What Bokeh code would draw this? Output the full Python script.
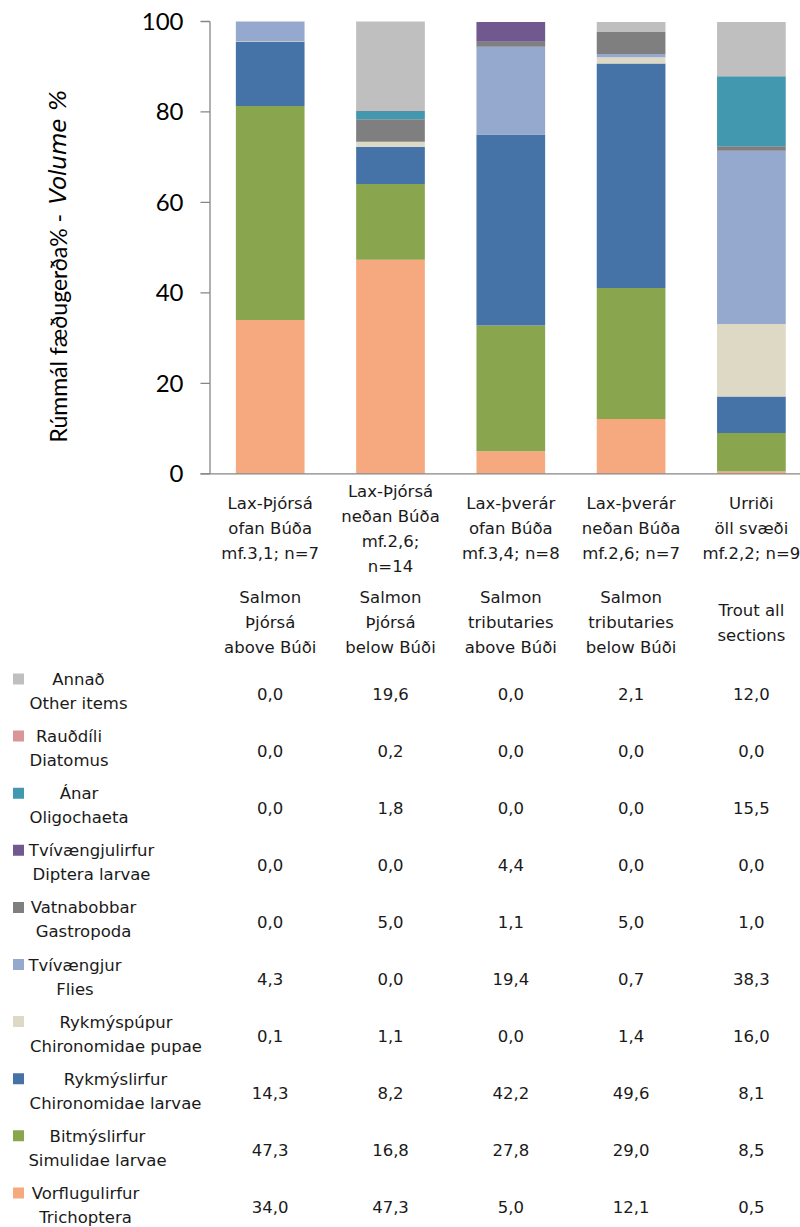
import math
from bokeh.plotting import figure
from bokeh.models import Range1d, ColumnDataSource
from bokeh.embed import file_html
from bokeh.resources import INLINE
from bokeh.core.properties import value

# ---------------- data ----------------
groups_is = ["Lax-Þjórsá\nofan Búða\nmf.3,1; n=7",
             "Lax-Þjórsá\nneðan Búða\nmf.2,6;\nn=14",
             "Lax-þverár\nofan Búða\nmf.3,4; n=8",
             "Lax-þverár\nneðan Búða\nmf.2,6; n=7",
             "Urriði\nöll svæði\nmf.2,2; n=9"]
groups_en = ["Salmon\nÞjórsá\nabove Búði",
             "Salmon\nÞjórsá\nbelow Búði",
             "Salmon\ntributaries\nabove Búði",
             "Salmon\ntributaries\nbelow Búði",
             "Trout all\nsections"]

# table rows, top to bottom (stack order is the reverse)
labels_is = ["Annað", "Rauðdíli", "Ánar", "Tvívængjulirfur", "Vatnabobbar",
             "Tvívængjur", "Rykmýspúpur", "Rykmýslirfur", "Bitmýslirfur", "Vorflugulirfur"]
labels_en = ["Other items", "Diatomus", "Oligochaeta", "Diptera larvae", "Gastropoda",
             "Flies", "Chironomidae pupae", "Chironomidae larvae", "Simulidae larvae", "Trichoptera"]

other_items = [0.0, 19.6, 0.0, 2.1, 12.0]
diatomus = [0.0, 0.2, 0.0, 0.0, 0.0]
oligochaeta = [0.0, 1.8, 0.0, 0.0, 15.5]
diptera_larvae = [0.0, 0.0, 4.4, 0.0, 0.0]
gastropoda = [0.0, 5.0, 1.1, 5.0, 1.0]
flies = [4.3, 0.0, 19.4, 0.7, 38.3]
chironomidae_pupae = [0.1, 1.1, 0.0, 1.4, 16.0]
chironomidae_larvae = [14.3, 8.2, 42.2, 49.6, 8.1]
simulidae_larvae = [47.3, 16.8, 27.8, 29.0, 8.5]
trichoptera = [34.0, 47.3, 5.0, 12.1, 0.5]

y_ticks = [0, 20, 40, 60, 80, 100]
y_title_a = "Rúmmál fæðugerða% -"
y_title_b = "Volume %"

series = [other_items, diatomus, oligochaeta, diptera_larvae, gastropoda,
          flies, chironomidae_pupae, chironomidae_larvae, simulidae_larvae, trichoptera]

# ---------------- style / layout ----------------
colors = ["#BFBFBF", "#D99694", "#4198AF", "#71588F", "#7F7F7F",
          "#95A9CF", "#DDD9C4", "#4572A7", "#89A54E", "#F6A97E"]
# visual centre (page px) of each row's two-line label
label_cx = [78, 68.5, 78.5, 91, 83, 74.5, 115.5, 115, 97, 85]

TXT = "#1a1a1a"
AX = "#868686"
W, H = 800, 1227
PXU = 120.3          # px per category
X0_PX = 269.7        # page x of first category
Y0_PX = 473.3        # page y of value 0
PYU = 4.523          # px per percent

x_start = -X0_PX / PXU
y_top = Y0_PX / PYU
xr = Range1d(x_start, x_start + W / PXU)
yr = Range1d(y_top - H / PYU, y_top)


def ux(px):
    return x_start + px / PXU


def vy(py):
    return y_top - py / PYU


p = figure(width=W, height=H, x_range=xr, y_range=yr,
           output_backend="svg", toolbar_location=None,
           x_axis_type=None, y_axis_type=None,
           min_border_left=0, min_border_right=0, min_border_top=0, min_border_bottom=0)
p.outline_line_color = None
p.background_fill_color = "white"

n = len(groups_is)
xs = list(range(n))
keys = [f"s{k}" for k in range(len(series))]

# ---------------- stacked bars ----------------
src = {"x": xs}
for k, s in zip(keys, series):
    src[k] = s
src = ColumnDataSource(src)
p.vbar_stack(keys[::-1], x="x", width=0.571, source=src,
             fill_color=colors[::-1], line_color=None)

# ---------------- axes ----------------
ax_x = ux(209.5)
p.segment(x0=[ax_x], y0=[0], x1=[ax_x], y1=[max(y_ticks)], line_color=AX, line_width=1.3)
p.segment(x0=[ux(200)] * len(y_ticks), y0=y_ticks, x1=[ax_x] * len(y_ticks), y1=y_ticks,
          line_color=AX, line_width=1.3)
p.segment(x0=[ux(200)], y0=[0], x1=[ux(800)], y1=[0], line_color=AX, line_width=1.3)
p.text(x=[ux(183)] * len(y_ticks), y=y_ticks, text=[str(t) for t in y_ticks],
       text_align="right", text_baseline="middle", text_font=value("Lato"),
       text_font_size="24px", text_color="#000000")

p.text(x=[ux(57.5)], y=[vy(442)], text=[y_title_a], angle=math.pi / 2,
       text_align="left", text_baseline="middle", text_font=value("Lato"),
       text_font_size="23px", text_color="#000000")
p.text(x=[ux(57.5)], y=[vy(204)], text=[y_title_b], angle=math.pi / 2,
       text_align="left", text_baseline="middle", text_font=value("DejaVu Sans"),
       text_font_style="italic", text_font_size="23px", text_color="#000000")

# ---------------- table ----------------
font = value("DejaVu Sans")
FS = "16.5px"

cx, cy, ct = [], [], []
for block_c, groups in ((528, groups_is), (622, groups_en)):
    for i, g in enumerate(groups):
        lines = g.split("\n")
        for k, line in enumerate(lines):
            cx.append(i)
            cy.append(vy(block_c - (len(lines) - 1) / 2 * 25 + k * 25))
            ct.append(line)
p.text(x=cx, y=cy, text=ct, text_align="center", text_baseline="middle",
       text_font=font, text_font_size=FS, text_color=TXT)

ROW0 = 693
DROW = 57.1
tx, ty, tt = [], [], []
lx, ly, lt = [], [], []
sx, sy = [], []
for r, s in enumerate(series):
    yc = ROW0 + r * DROW
    for i, v in enumerate(s):
        tx.append(i)
        ty.append(vy(yc))
        tt.append(f"{v:.1f}".replace(".", ","))
    lx += [ux(label_cx[r]), ux(label_cx[r])]
    ly += [vy(yc - 14), vy(yc + 10)]
    lt += [labels_is[r], labels_en[r]]
    sx.append(ux(18))
    sy.append(vy(yc - 14.5))

p.text(x=tx, y=ty, text=tt, text_align="center", text_baseline="middle",
       text_font=font, text_font_size=FS, text_color=TXT)
p.text(x=lx, y=ly, text=lt, text_align="center", text_baseline="middle",
       text_font=font, text_font_size=FS, text_color=TXT)
p.scatter(x=sx, y=sy, marker="square", size=11, fill_color=colors, line_color=None)

open("out.html", "w").write(file_html(p, INLINE))
